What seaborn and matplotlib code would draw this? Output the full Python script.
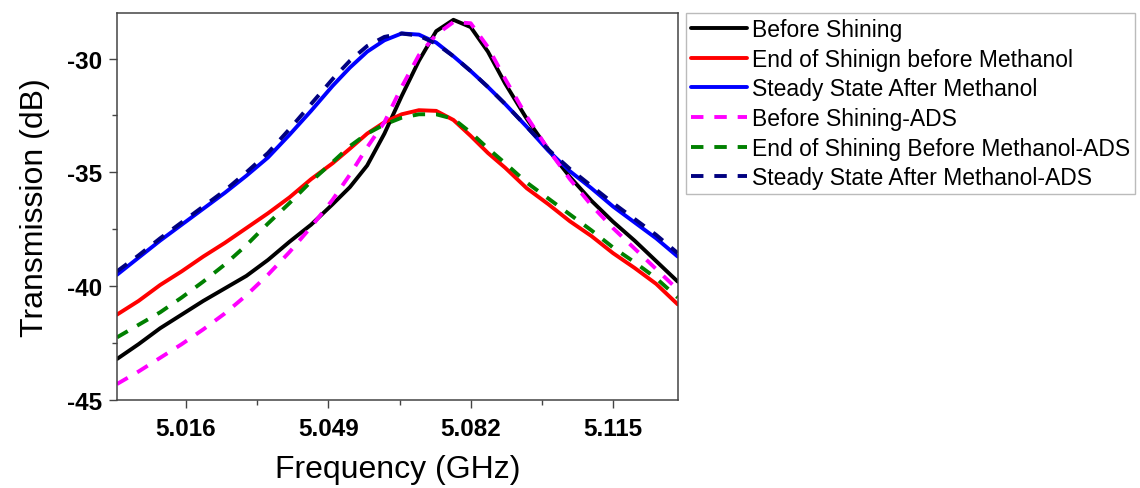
import pandas as pd
from matplotlib import pyplot as plt
import seaborn as sns

# Datos (frecuencia en GHz, transmisión en dB)
frecuencia = [5.000, 5.005, 5.010, 5.015, 5.020, 5.025, 5.030, 5.035, 5.040, 5.045,
              5.050, 5.054, 5.058, 5.062, 5.066, 5.070, 5.074, 5.078, 5.082, 5.086,
              5.090, 5.095, 5.100, 5.105, 5.110, 5.115, 5.120, 5.125, 5.130]

before_shining = [-43.2, -42.55, -41.85, -41.25, -40.65, -40.1, -39.55, -38.85, -38.05, -37.3,
                  -36.4, -35.65, -34.7, -33.3, -31.65, -30.1, -28.8, -28.3, -28.62, -29.7,
                  -31.1, -32.65, -34.0, -35.2, -36.25, -37.17, -38.0, -38.9, -39.8]

end_shining = [-41.25, -40.65, -39.95, -39.35, -38.7, -38.1, -37.45, -36.8, -36.1, -35.3,
               -34.6, -33.96, -33.3, -32.8, -32.45, -32.27, -32.3, -32.7, -33.4, -34.15,
               -34.8, -35.7, -36.4, -37.15, -37.8, -38.55, -39.2, -39.9, -40.8]

steady_state = [-39.5, -38.75, -38.0, -37.3, -36.6, -35.9, -35.15, -34.35, -33.35, -32.3,
                -31.2, -30.4, -29.7, -29.2, -28.9, -28.95, -29.3, -29.9, -30.55, -31.25,
                -32.0, -33.0, -34.05, -34.95, -35.7, -36.5, -37.2, -37.9, -38.7]

before_shining_ads = [-44.3, -43.75, -43.15, -42.55, -41.9, -41.2, -40.4, -39.5, -38.5, -37.4,
                      -36.2, -35.1, -33.9, -32.8, -31.25, -29.85, -28.95, -28.4, -28.45, -29.5,
                      -30.9, -32.55, -34.0, -35.3, -36.45, -37.45, -38.35, -39.25, -40.15]

end_shining_ads = [-42.25, -41.7, -41.15, -40.5, -39.8, -39.05, -38.2, -37.25, -36.35, -35.4,
                   -34.55, -33.85, -33.3, -32.9, -32.6, -32.45, -32.45, -32.65, -33.25, -33.95,
                   -34.6, -35.45, -36.15, -36.85, -37.55, -38.3, -38.95, -39.65, -40.5]

steady_state_ads = [-39.35, -38.65, -37.9, -37.2, -36.5, -35.8, -35.0, -34.15, -33.1, -32.0,
                    -30.9, -30.1, -29.45, -29.05, -28.9, -29.0, -29.35, -29.9, -30.55, -31.25,
                    -32.0, -33.0, -34.0, -34.85, -35.6, -36.35, -37.05, -37.75, -38.55]

etiquetas = ["Before Shining", "End of Shinign before Methanol", "Steady State After Methanol",
             "Before Shining-ADS", "End of Shining Before Methanol-ADS",
             "Steady State After Methanol-ADS"]

xticks = [5.016, 5.049, 5.082, 5.115]
yticks = [-30, -35, -40, -45]

df = pd.DataFrame({
    "freq": frecuencia,
    etiquetas[0]: before_shining,
    etiquetas[1]: end_shining,
    etiquetas[2]: steady_state,
    etiquetas[3]: before_shining_ads,
    etiquetas[4]: end_shining_ads,
    etiquetas[5]: steady_state_ads,
})

sns.set_style("ticks")
plt.rcParams['font.family'] = ['Liberation Sans', 'DejaVu Sans']
plt.rcParams['text.color'] = 'black'
plt.rcParams['axes.labelcolor'] = 'black'
plt.rcParams['xtick.color'] = 'black'
plt.rcParams['ytick.color'] = 'black'

colores = ["black", "#ff0000", "#0000ff", "#ff00ff", "#008000", "#000080"]
estilos = ["-", "-", "-", (0, (3.2, 2.8)), (0, (3.2, 2.8)), (0, (3.2, 2.8))]

fig = plt.figure(figsize=(11.4, 4.89), dpi=100)
ax = fig.add_axes([0.1026, 0.18, 0.4919, 0.7914])

for etiqueta, color, estilo in zip(etiquetas, colores, estilos):
    sns.lineplot(x="freq", y=etiqueta, data=df, color=color, linestyle=estilo,
                 linewidth=2.8, label=etiqueta, ax=ax)

ax.set_xlim(5.0, 5.13)
ax.set_ylim(-45, -28)
ax.set_xticks(xticks)
ax.set_xticklabels([f"{t:.3f}" for t in xticks])
ax.set_xticks([5.0325, 5.0655, 5.0985], minor=True)
ax.set_yticks(yticks)
ax.set_yticklabels([str(t) for t in yticks])
ax.set_yticks([-32.5, -37.5, -42.5], minor=True)

for lab in ax.get_xticklabels() + ax.get_yticklabels():
    lab.set_fontweight("bold")
    lab.set_fontsize(17.5)
ax.tick_params(axis="both", which="major", direction="out", length=6, width=1,
               color="#444444", pad=5)
ax.tick_params(axis="both", which="minor", direction="out", length=3.5, width=1,
               color="#444444")
ax.tick_params(axis="x", which="major", pad=6)

for s in ax.spines.values():
    s.set_color("#444444")
    s.set_linewidth(1.1)

ax.set_xlabel("Frequency (GHz)", fontsize=23, labelpad=10)
ax.set_ylabel("Transmission (dB)", fontsize=23, labelpad=12)

leg = ax.legend(loc="upper left", bbox_to_anchor=(1.0148, 1.0), borderaxespad=0,
                fontsize=16.5, handlelength=2.45, handletextpad=0.2, labelspacing=0.29,
                borderpad=0.22, fancybox=False, frameon=True)
leg.get_frame().set_edgecolor("#aaaaaa")
leg.get_frame().set_linewidth(1.0)

plt.savefig("out.png", dpi=100)
